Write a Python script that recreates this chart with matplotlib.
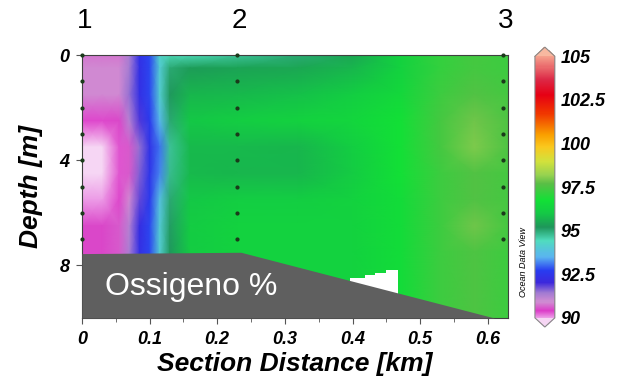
import numpy as np
import matplotlib.pyplot as plt
from matplotlib.colors import LinearSegmentedColormap, Normalize
from matplotlib.ticker import MultipleLocator

plt.rcParams['font.family'] = ['Liberation Sans', 'DejaVu Sans']

# gridded oxygen saturation (%)
dist = [0.0, 0.03, 0.055, 0.07, 0.085, 0.1, 0.115, 0.13, 0.16, 0.23, 0.32, 0.40, 0.47, 0.53, 0.58, 0.63]
depth = [0, 0.5, 1.5, 2.5, 3.5, 4.5, 5.5, 6.5, 7.5, 10]
oxy = [
    [90.8, 90.8, 90.8, 91.3, 92.4, 92.8, 94.2, 94.5, 94.5, 94.7, 95.0, 95.5, 96.3, 97.2, 97.4, 97.3],
    [90.9, 90.9, 90.9, 91.4, 92.3, 92.8, 94.0, 95.0, 95.3, 95.4, 95.5, 95.7, 96.3, 97.2, 97.4, 97.3],
    [90.9, 90.9, 90.9, 91.5, 92.3, 92.8, 94.1, 95.2, 95.7, 95.8, 95.9, 96.2, 96.5, 97.3, 97.6, 97.4],
    [90.4, 90.4, 90.5, 91.2, 91.9, 92.6, 93.6, 95.0, 96.0, 96.2, 96.3, 96.4, 96.7, 97.4, 97.9, 97.5],
    [89.9, 89.8, 90.3, 90.6, 91.5, 92.4, 93.1, 94.7, 95.8, 95.8, 95.7, 96.2, 96.7, 97.4, 98.0, 97.5],
    [89.8, 89.8, 90.3, 90.6, 91.6, 92.5, 93.2, 94.8, 95.8, 95.7, 95.7, 96.1, 96.7, 97.3, 97.6, 97.4],
    [90.0, 90.0, 90.4, 90.9, 91.8, 92.6, 93.8, 95.0, 96.0, 96.2, 96.2, 96.3, 96.6, 97.3, 97.6, 97.4],
    [90.5, 90.5, 90.6, 91.2, 92.2, 92.8, 94.0, 95.1, 96.1, 96.3, 96.3, 96.3, 96.6, 97.3, 97.9, 97.4],
    [90.5, 90.5, 90.6, 91.3, 92.3, 92.8, 94.1, 95.2, 96.1, 96.3, 96.3, 96.3, 96.6, 97.3, 97.5, 97.3],
    [90.5, 90.5, 90.6, 91.3, 92.3, 92.8, 94.1, 95.2, 96.1, 96.3, 96.3, 96.3, 96.6, 97.3, 97.5, 97.3],
]

# stations and sample depths
station_names = ['1', '2', '3']
station_dist = [0.0, 0.229, 0.623]
sample_depth = [0, 1, 2, 3, 4, 5, 6, 7]

# sea floor outline and the no-data gap
floor_dist = [0.0, 0.235, 0.61, 0.63]
floor_depth = [7.55, 7.5, 10.0, 10.0]
gap_dist = [0.396, 0.418, 0.433, 0.449, 0.467]
gap_top = [8.47, 8.38, 8.3, 8.18, 8.18]

# ODV-like palette
cmap_vals = [90.0, 90.4, 90.9, 91.4, 92.0, 92.7, 93.5, 94.4, 95.2, 96.0, 96.7, 97.7, 98.2,
             99.0, 99.8, 100.5, 101.1, 101.8, 102.8, 103.7, 105.0]
cmap_cols = ['#ec9be6', '#dc3cc8', '#d08cd2', '#a07ad2', '#3c28dc', '#283cf0', '#5ab4f0',
             '#50dcbe', '#1e965a', '#14c846', '#12e036', '#5abe46', '#96d250', '#d2e13c',
             '#fac81e', '#faa000', '#f56e00', '#f03200', '#e60014', '#dc2846', '#f5a08c']
vmin, vmax = 90, 105
pos = [(v - vmin) / (vmax - vmin) for v in cmap_vals]
cmap = LinearSegmentedColormap.from_list('odv', list(zip(pos, cmap_cols)))
cmap.set_under('#f6d6f4')
cmap.set_over('#f8b8a0')
norm = Normalize(vmin, vmax)

fig = plt.figure(figsize=(6.22, 3.85), dpi=100)
ax = fig.add_axes([0.1318, 0.174, 0.685, 0.683])

ax.pcolormesh(dist, depth, np.array(oxy), cmap=cmap, norm=norm, shading='gouraud')
ax.fill_between(gap_dist, gap_top, 10, step='post', color='white', lw=0)
ax.fill_between(floor_dist, floor_depth, 10, color='#5f5f5f', lw=0, zorder=3)

for sx in station_dist:
    ax.scatter([sx] * len(sample_depth), sample_depth, s=4, c='#1a3a1a', zorder=4, clip_on=False)

for name, sx in zip(station_names, station_dist):
    ax.text(sx + 0.004, 1.13, name, transform=ax.get_xaxis_transform(), ha='center', va='center',
            fontsize=20)

ax.text(0.034, 8.82, 'Ossigeno %', color='white', fontsize=23, va='center', ha='left', zorder=5)

ax.set_xlim(0, 0.63)
ax.set_ylim(10, 0)
ax.set_yticks([0, 4, 8])
ax.set_xticks([0, 0.1, 0.2, 0.3, 0.4, 0.5, 0.6])
ax.set_xticklabels(['0', '0.1', '0.2', '0.3', '0.4', '0.5', '0.6'])
ax.xaxis.set_minor_locator(MultipleLocator(0.05))
ax.tick_params(axis='both', which='major', labelsize=13, length=4, color='#555555', pad=5)
ax.tick_params(axis='x', which='minor', length=3, color='#555555')
for lab in ax.get_xticklabels() + ax.get_yticklabels():
    lab.set_fontweight('bold')
    lab.set_fontstyle('italic')
for sp in ax.spines.values():
    sp.set_color('#404040')
    sp.set_linewidth(0.8)

ax.set_xlabel('Section Distance [km]', fontsize=19, fontweight='bold', fontstyle='italic', labelpad=3)
ax.set_ylabel('Depth [m]', fontsize=19, fontweight='bold', fontstyle='italic', labelpad=12)

fig.text(0.841, 0.32, 'Ocean Data View', rotation=90, fontsize=6.5, fontstyle='italic',
         ha='center', va='center')

cax = fig.add_axes([0.86, 0.1506, 0.032, 0.727])
cb = fig.colorbar(plt.cm.ScalarMappable(norm=norm, cmap=cmap), cax=cax, extend='both',
                  extendfrac=0.035)
cb.set_ticks([90, 92.5, 95, 97.5, 100, 102.5, 105])
cb.set_ticklabels(['90', '92.5', '95', '97.5', '100', '102.5', '105'])
cb.ax.tick_params(length=0, labelsize=13, pad=4)
for lab in cb.ax.get_yticklabels():
    lab.set_fontweight('bold')
    lab.set_fontstyle('italic')
cb.outline.set_edgecolor('#888888')
cb.outline.set_linewidth(0.8)

fig.savefig('out.png', dpi=100)
